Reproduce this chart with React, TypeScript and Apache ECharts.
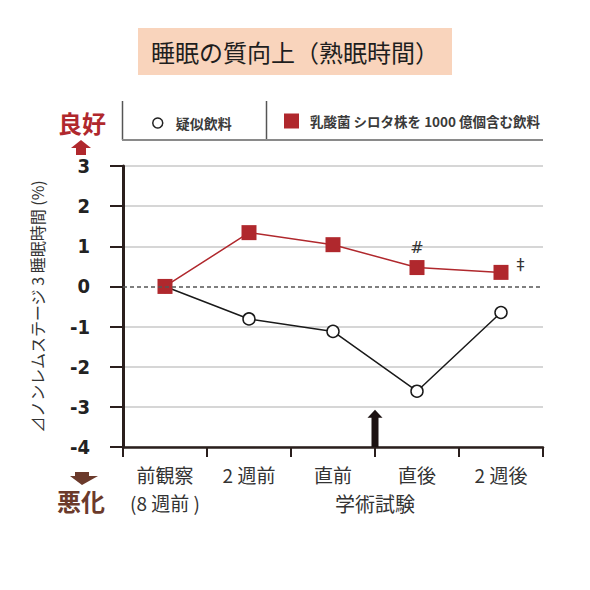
import React, { useEffect, useRef } from 'react';
import * as echarts from 'echarts';

const categories = ['前観察\n(8 週前 )', '2 週前', '直前', '直後', '2 週後'];
const placeboName = '疑似飲料';
const lactoName = '乳酸菌 シロタ株を 1000 億個含む飲料';
const placeboValues = [0, -0.81, -1.12, -2.61, -0.65];
const lactoValues = [0, 1.34, 1.04, 0.47, 0.35];
const significanceMarks = ['', '', '', '#', '‡'];
const yMin = -4;
const yMax = 3;
const yStep = 1;
const examPosition = 2.5;
const examArrowTop = -3.07;
const titleText = '睡眠の質向上（熟眠時間）';
const yAxisName = '⊿ノンレムステージ 3 睡眠時間 (%)';
const examLabel = '学術試験';
const goodLabel = '良好';
const badLabel = '悪化';

const JP = "'Noto Sans CJK JP', 'Noto Sans', sans-serif";
const NARROW = "'Liberation Sans Narrow', 'DejaVu Sans Condensed', 'Roboto', sans-serif";
const AXIS = '#2a1f1d';
const RED = '#b0282d';
const BROWN = '#6b3a2b';

export default function App() {
  const ref = useRef<HTMLDivElement>(null);
  useEffect(() => {
    if (!ref.current) return;
    const chart = echarts.init(ref.current, undefined, { renderer: 'svg' });
    const splitColors = [];
    for (let v = yMin; v <= yMax; v += yStep) splitColors.push(v === 0 ? 'rgba(0,0,0,0)' : '#c9c9c9');

    const option: any = {
      animation: false,
      backgroundColor: '#ffffff',
      title: {
        text: titleText,
        left: 'center',
        top: 28,
        backgroundColor: '#f9d4bc',
        padding: [11, 13, 12, 13],
        textStyle: { fontSize: 24, fontWeight: 'normal', color: '#1e1e1e', fontFamily: JP, lineHeight: 24 },
      },
      legend: [
        {
          left: 152,
          top: 116,
          padding: 0,
          itemWidth: 10,
          itemHeight: 10,
          selectedMode: false,
          data: [{ name: placeboName, icon: 'circle', itemStyle: { color: '#fff', borderColor: '#222', borderWidth: 1.5 } }],
          textStyle: { fontSize: 14, fontWeight: 'bold', color: '#3a3a3a', fontFamily: JP, padding: [0, 0, 0, 8] },
        },
        {
          left: 284,
          top: 113.5,
          padding: 0,
          itemWidth: 15,
          itemHeight: 15,
          selectedMode: false,
          data: [{ name: lactoName, icon: 'rect', itemStyle: { color: RED, borderWidth: 0 } }],
          textStyle: { fontSize: 13.5, fontWeight: 'bold', color: '#3a3a3a', fontFamily: JP, padding: [0, 0, 0, 6] },
        },
      ],
      grid: { left: 123, right: 47, top: 166, bottom: 143, containLabel: false, outerBoundsMode: 'none' },
      xAxis: [
        {
          type: 'category',
          data: categories,
          boundaryGap: true,
          axisLine: { onZero: false, lineStyle: { color: AXIS, width: 2.5 } },
          axisTick: { show: true, length: 10, interval: 0, lineStyle: { color: AXIS, width: 2 } },
          axisLabel: { interval: 0, margin: 13, fontSize: 19, lineHeight: 28, color: '#333', fontFamily: JP },
          splitLine: { show: false },
        },
        { type: 'value', min: -0.5, max: 4.5, show: false, axisLine: { onZero: false } },
      ],
      yAxis: {
        type: 'value',
        min: yMin,
        max: yMax,
        interval: yStep,
        name: yAxisName,
        nameLocation: 'middle',
        nameGap: 78,
        nameTextStyle: { fontSize: 16, color: '#333', fontFamily: JP },
        axisLine: { show: true, onZero: false, lineStyle: { color: AXIS, width: 3 } },
        axisTick: { show: true, length: 13, lineStyle: { color: AXIS, width: 2 } },
        axisLabel: { margin: 33, fontSize: 20, fontWeight: 'bold', color: '#222', fontFamily: NARROW },
        splitLine: { show: true, lineStyle: { color: splitColors, width: 1.5 } },
      },
      graphic: [
        { type: 'line', shape: { x1: 122.5, y1: 101, x2: 122.5, y2: 140 }, style: { stroke: '#555', lineWidth: 1.5 } },
        { type: 'line', shape: { x1: 266.5, y1: 101, x2: 266.5, y2: 140 }, style: { stroke: '#555', lineWidth: 1.5 } },
        { type: 'line', shape: { x1: 122, y1: 140, x2: 543, y2: 140 }, style: { stroke: '#8a8a8a', lineWidth: 2 } },
        { type: 'text', x: 82, y: 122, style: { text: goodLabel, fontSize: 24, fontWeight: 'bold', fill: RED, fontFamily: JP, align: 'center', verticalAlign: 'middle' } },
        { type: 'polygon', shape: { points: [[81, 140], [91, 148], [86, 148], [86, 155], [76, 155], [76, 148], [71, 148]] }, style: { fill: RED } },
        { type: 'polygon', shape: { points: [[75, 472], [89, 472], [89, 476], [98, 476], [82, 485], [70, 476], [75, 476]] }, style: { fill: BROWN } },
        { type: 'text', x: 81, y: 500, style: { text: badLabel, fontSize: 24, fontWeight: 'bold', fill: BROWN, fontFamily: JP, align: 'center', verticalAlign: 'middle' } },
      ],
      series: [
        {
          name: placeboName,
          type: 'line',
          data: placeboValues,
          z: 2,
          symbol: 'circle',
          symbolSize: 12,
          itemStyle: { color: '#fff', borderColor: '#1a1a1a', borderWidth: 1.5 },
          lineStyle: { color: '#1a1a1a', width: 1.5 },
          markLine: {
            silent: true,
            symbol: 'none',
            label: { show: false },
            lineStyle: { color: '#555', type: [4, 3], width: 1.5 },
            data: [{ yAxis: 0 }],
          },
        },
        {
          name: lactoName,
          type: 'line',
          z: 3,
          data: lactoValues.map((v, i) => ({
            value: v,
            label: significanceMarks[i]
              ? {
                  show: true,
                  formatter: significanceMarks[i],
                  position: i === lactoValues.length - 1 ? 'right' : 'top',
                  distance: i === lactoValues.length - 1 ? 8 : 5,
                  offset: i === lactoValues.length - 1 ? [0, -8] : [0, 0],
                  fontSize: 16,
                  color: '#333',
                  fontFamily: "'DejaVu Sans', sans-serif",
                }
              : { show: false },
          })),
          symbol: 'rect',
          symbolSize: 15,
          itemStyle: { color: RED },
          lineStyle: { color: RED, width: 1.5 },
        },
        {
          type: 'custom',
          xAxisIndex: 1,
          yAxisIndex: 0,
          z: 4,
          silent: true,
          data: [[examPosition, yMin, examArrowTop]],
          renderItem: (params: any, api: any) => {
            const base = api.coord([api.value(0), api.value(1)]);
            const tip = api.coord([api.value(0), api.value(2)]);
            const x = base[0];
            const headH = 8;
            const sw = 3.5;
            const hw = 7.5;
            return {
              type: 'group',
              children: [
                {
                  type: 'polygon',
                  shape: {
                    points: [
                      [x - sw, base[1]],
                      [x - sw, tip[1] + headH],
                      [x - hw, tip[1] + headH],
                      [x, tip[1]],
                      [x + hw, tip[1] + headH],
                      [x + sw, tip[1] + headH],
                      [x + sw, base[1]],
                    ],
                  },
                  style: { fill: '#1c1212' },
                },
                {
                  type: 'text',
                  x,
                  y: base[1] + 56,
                  style: { text: examLabel, fontSize: 20, fill: '#333', fontFamily: JP, align: 'center', verticalAlign: 'middle' },
                },
              ],
            };
          },
        },
      ],
    };
    chart.setOption(option);
    return () => chart.dispose();
  }, []);
  return <div ref={ref} style={{ position: 'fixed', left: 0, top: 0, width: 590, height: 590, background: '#fff' }} />;
}
